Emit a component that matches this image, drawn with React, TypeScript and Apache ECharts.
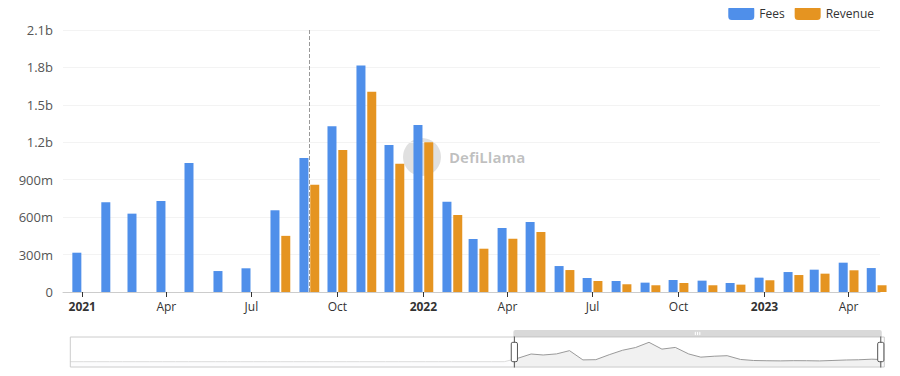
import React, { useEffect, useRef } from "react";
import * as echarts from "echarts";

const months: string[] = [
  "2018-03-01", "2018-04-01", "2018-05-01", "2018-06-01",
  "2018-07-01", "2018-08-01", "2018-09-01", "2018-10-01", "2018-11-01", "2018-12-01",
  "2019-01-01", "2019-02-01", "2019-03-01", "2019-04-01", "2019-05-01", "2019-06-01",
  "2019-07-01", "2019-08-01", "2019-09-01", "2019-10-01", "2019-11-01", "2019-12-01",
  "2020-01-01", "2020-02-01", "2020-03-01", "2020-04-01", "2020-05-01", "2020-06-01",
  "2020-07-01", "2020-08-01", "2020-09-01", "2020-10-01", "2020-11-01", "2020-12-01",
  "2021-01-01", "2021-02-01", "2021-03-01", "2021-04-01", "2021-05-01", "2021-06-01",
  "2021-07-01", "2021-08-01", "2021-09-01", "2021-10-01", "2021-11-01", "2021-12-01",
  "2022-01-01", "2022-02-01", "2022-03-01", "2022-04-01", "2022-05-01", "2022-06-01",
  "2022-07-01", "2022-08-01", "2022-09-01", "2022-10-01", "2022-11-01", "2022-12-01",
  "2023-01-01", "2023-02-01", "2023-03-01", "2023-04-01", "2023-05-01",
];

// values in millions of USD
const fees: number[] = [
  0, 0, 0, 0, 0, 0, 0, 0, 0, 0,
  0, 0, 0, 0, 0, 0, 0, 0, 0, 0, 0, 0,
  0, 0, 0, 0, 0, 0, 0, 0, 0, 0, 0, 0,
  315, 720, 628, 730, 1034, 168, 190, 655, 1074, 1328, 1816, 1178,
  1338, 724, 425, 513, 561, 208, 112, 88, 75, 96, 91, 72,
  115, 160, 179, 235, 192,
];

const revenue: number[] = [
  0, 0, 0, 0, 0, 0, 0, 0, 0, 0,
  0, 0, 0, 0, 0, 0, 0, 0, 0, 0, 0, 0,
  0, 0, 0, 0, 0, 0, 0, 0, 0, 0, 0, 0,
  0, 0, 0, 0, 0, 0, 0, 450, 860, 1138, 1605, 1028,
  1200, 617, 347, 427, 481, 176, 88, 62, 54, 72, 54, 59,
  94, 136, 147, 174, 54,
];

const seriesNames = ["Fees", "Revenue"];
const colors = ["#4F8FEA", "#E59421"];
const pointerMonth = "2021-09-01";
const windowStart = "2020-12-22";
const windowEnd = "2023-04-24";

function fmtY(v: number): string {
  if (v === 0) return "0";
  if (v >= 1e9) return (v / 1e9).toFixed(1).replace(/\.0$/, "") + "b";
  return Math.round(v / 1e6) + "m";
}

export default function App() {
  const ref = useRef<HTMLDivElement>(null);
  useEffect(() => {
    if (!ref.current) return;
    const chart = echarts.init(ref.current, undefined, { renderer: "svg" });
    const font = "Open Sans";
    chart.setOption({
      animation: false,
      textStyle: { fontFamily: font },
      color: colors,
      legend: {
        right: 21,
        top: 1,
        itemWidth: 26,
        itemHeight: 14,
        itemGap: 10,
        textStyle: { color: "#333", fontSize: 12, fontFamily: font },
        data: seriesNames,
      },
      graphic: [
        {
          type: "group",
          left: 403,
          top: 138,
          z: -1,
          silent: true,
          children: [
            { type: "circle", shape: { cx: 19, cy: 19, r: 19 }, style: { fill: "rgba(0,0,0,0.12)" } },
            {
              type: "text",
              x: 46,
              y: 19,
              style: {
                text: "DefiLlama",
                fill: "rgba(0,0,0,0.25)",
                fontSize: 15,
                fontWeight: "bold",
                fontFamily: font,
                verticalAlign: "middle",
              },
            },
          ],
        },
      ],
      grid: { left: 63, right: 20, top: 30, bottom: 84 },
      xAxis: {
        type: "time",
        splitNumber: 6,
        axisLine: { lineStyle: { color: "#ccc" } },
        axisTick: { show: true, length: 5, lineStyle: { color: "#333" } },
        axisLabel: { color: "#333", fontSize: 12, fontFamily: font },
        splitLine: { show: false },
      },
      yAxis: {
        type: "value",
        min: 0,
        max: 2.1e9,
        interval: 3e8,
        axisLabel: { formatter: fmtY, color: "#555", fontSize: 13, fontFamily: font, margin: 10 },
        splitLine: { lineStyle: { color: "#f3f3f3" } },
      },
      dataZoom: [
        {
          type: "slider",
          xAxisIndex: 0,
          startValue: windowStart,
          endValue: windowEnd,
          filterMode: "none",
          left: 67,
          right: 18,
          bottom: 15,
          height: 31,
          showDetail: false,
          brushSelect: true,
          borderColor: "#ccc",
          backgroundColor: "rgba(0,0,0,0)",
          fillerColor: "rgba(255,255,255,0)",
          dataBackground: {
            lineStyle: { color: "#dcdcdc", width: 1 },
            areaStyle: { color: "#eef1f7" },
          },
          selectedDataBackground: {
            lineStyle: { color: "#999", width: 1 },
            areaStyle: { color: "#d0d0d0" },
          },
          moveHandleSize: 7,
          moveHandleStyle: { color: "#b3b3b3" },
          handleStyle: { color: "#fff", borderColor: "#555" },
          emphasis: { moveHandleStyle: { color: "#b3b3b3" } },
        },
      ],
      series: [
        {
          name: seriesNames[0],
          type: "bar",
          barWidth: 9,
          barGap: "20%",
          data: months.map((m, i) => [m, fees[i] * 1e6]),
        },
        {
          name: seriesNames[1],
          type: "bar",
          barWidth: 9,
          barGap: "20%",
          data: months.map((m, i) => [m, revenue[i] * 1e6]),
        },
        {
          name: "pointer",
          type: "line",
          data: [],
          markLine: {
            silent: true,
            symbol: "none",
            label: { show: false },
            lineStyle: { color: "#999", type: "dashed", width: 1 },
            data: [{ xAxis: pointerMonth }],
          },
        },
      ],
    });
    return () => chart.dispose();
  }, []);
  return <div ref={ref} style={{ width: 900, height: 376, margin: -8 }} />;
}
